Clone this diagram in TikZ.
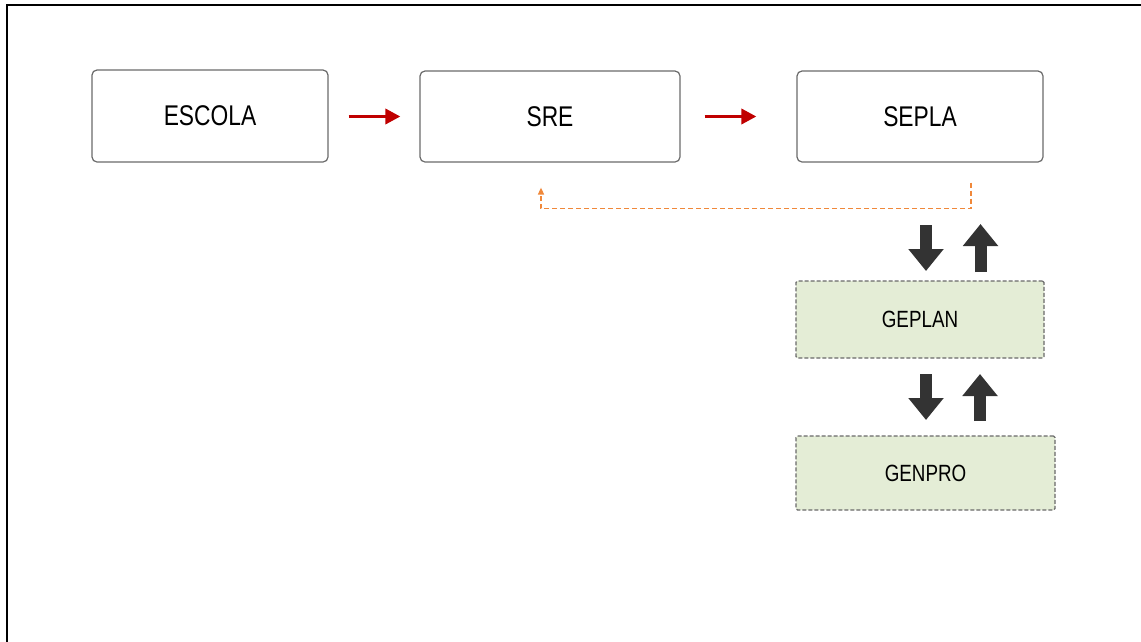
\documentclass[tikz,border=0pt]{standalone}
\usepackage{fontspec}
\setmainfont{Liberation Sans}[FakeStretch=0.8]
\usetikzlibrary{arrows.meta,calc}
\definecolor{boxline}{HTML}{6A6A6A}
\definecolor{greenfill}{HTML}{E4EDD6}
\definecolor{redarr}{HTML}{C00000}
\definecolor{orangearr}{HTML}{F0883A}
\definecolor{blockarr}{HTML}{333333}
\begin{document}
\begin{tikzpicture}[x=1pt,y=-1pt,
  whitebox/.style={draw=boxline,line width=1.2pt,rounded corners=5pt,fill=white,inner sep=0pt,font=\fontsize{28.5}{30}\selectfont},
  greenbox/.style={draw=boxline,line width=1.1pt,dash pattern=on 4pt off 2pt,rounded corners=1.5pt,fill=greenfill,inner sep=0pt,font=\fontsize{23.5}{25}\selectfont},
  redarrow/.style={draw=redarr,line width=3.5pt,-{Triangle[length=15pt,width=15pt]}},
  backarrow/.style={draw=orangearr,line width=1.4pt,dash pattern=on 5pt off 3pt,-{Triangle[length=7pt,width=6pt]}},
  blockarrow/.style={draw=blockarr,line width=12pt,-{Triangle[length=22pt,width=34pt]}}]
\useasboundingbox (0,0) rectangle (1141,641);
\fill[white] (0,0) rectangle (1141,641);
\draw[line width=2.5pt,black] (7,660) -- (7,5) -- (1160,5);

\node[whitebox,minimum width=236pt,minimum height=92pt] (escola) at (210,116) {ESCOLA};
\node[whitebox,minimum width=260pt,minimum height=91pt] (sre) at (550,116.5) {SRE};
\node[whitebox,minimum width=246pt,minimum height=91pt] (sepla) at (920,116.5) {SEPLA};
\node[greenbox,minimum width=248pt,minimum height=77pt] (geplan) at (920,319.5) {GEPLAN};
\node[greenbox,minimum width=259pt,minimum height=74pt] (genpro) at (925.5,473) {GENPRO};

\draw[redarrow,shorten <=20pt,shorten >=19pt] (escola.east |- sre.west) -- (sre.west);
\draw[redarrow,shorten <=24pt,shorten >=40pt] (sre.east) -- (sepla.west);

\coordinate (b0) at ($(sepla.south)+(51,20)$);
\coordinate (b1) at ($(sepla.south)+(51,46)$);
\coordinate (b3) at ($(sre.south)+(-9,25)$);
\draw[backarrow] (b0) -- (b1) -| (b3);

\coordinate (d1s) at (926,225);
\coordinate (d1e) at (926,271);
\coordinate (u1s) at (980.5,272);
\coordinate (u1e) at (980.5,224);
\draw[blockarrow] (d1s) -- (d1e);
\draw[blockarrow] (u1s) -- (u1e);

\coordinate (d2s) at (926,374);
\coordinate (d2e) at (926,420);
\coordinate (u2s) at (980,421);
\coordinate (u2e) at (980,374);
\draw[blockarrow] (d2s) -- (d2e);
\draw[blockarrow] (u2s) -- (u2e);
\end{tikzpicture}
\end{document}
